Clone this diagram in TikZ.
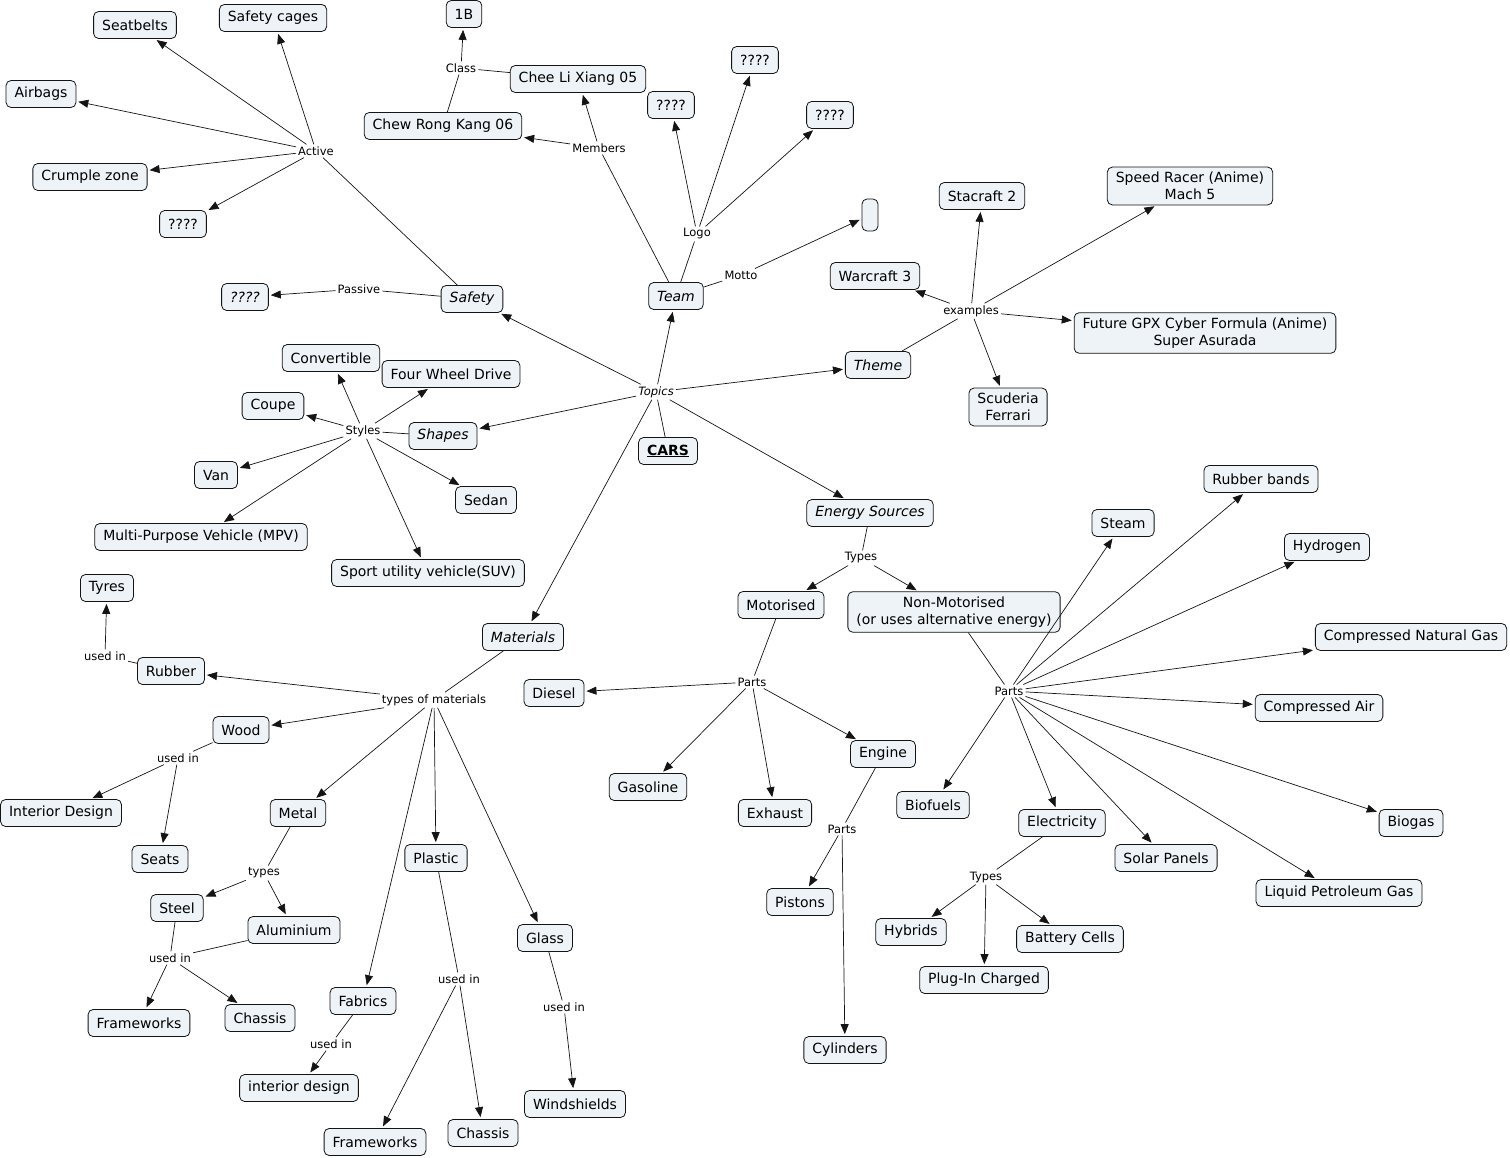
\documentclass[tikz,border=0pt]{standalone}
\usepackage{fontspec}
\setmainfont{DejaVu Sans}
\usepackage{tikz}
\usetikzlibrary{arrows.meta,positioning}
\definecolor{ConceptFill}{RGB}{237,243,246}
\definecolor{EdgeGray}{RGB}{20,20,20}

\begin{document}
\begin{tikzpicture}[
  x=1pt, y=-1pt,
  concept/.style={
    draw=EdgeGray,
    rounded corners=5pt,
    fill=ConceptFill,
    align=center,
    inner xsep=8.5pt,
    inner ysep=5pt,
    minimum height=27pt,
    line width=0.8pt,
    font=\fontsize{14}{17}\selectfont
  },
  linkph/.style={font=\fontsize{11.5}{13}\selectfont, inner sep=2pt},
  plain/.style={line width=0.7pt, EdgeGray},
  arr/.style={-{Triangle[length=10pt,width=8pt]}, line width=0.7pt, EdgeGray, shorten >=2pt}
]
\useasboundingbox (0,0) rectangle (1510,1158);

% Centre
\node[linkph,font=\fontsize{11.5}{13}\selectfont\itshape] (topics) at (656,392) {Topics};
\node[concept] (cars) at (668,451) {\underline{\textbf{CARS}}};

% Topics
\node[concept,font=\fontsize{14}{17}\selectfont\itshape] (safety) at (472,299) {Safety};
\node[concept,font=\fontsize{14}{17}\selectfont\itshape] (team) at (676,296) {Team};
\node[concept,font=\fontsize{14}{17}\selectfont\itshape] (theme) at (878,365) {Theme};
\node[concept,font=\fontsize{14}{17}\selectfont\itshape] (shapes) at (443,436) {Shapes};
\node[concept,font=\fontsize{14}{17}\selectfont\itshape] (energy) at (870,513) {Energy Sources};
\node[concept,font=\fontsize{14}{17}\selectfont\itshape] (materials) at (523,637) {Materials};

% Safety
\node[linkph] (active) at (316,151) {Active};
\node[linkph] (passive) at (359,289) {Passive};
\node[concept] (seatbelts) at (135,25) {Seatbelts};
\node[concept] (cages) at (273,18) {Safety cages};
\node[concept] (airbags) at (41,94) {Airbags};
\node[concept] (crumple) at (90,177) {Crumple zone};
\node[concept] (qactive) at (183,224) {????};
\node[concept,font=\fontsize{14}{17}\selectfont\itshape] (qpassive) at (245,297) {????};

% Team
\node[linkph] (members) at (599,148) {Members};
\node[linkph] (class) at (461,68) {Class};
\node[linkph] (logo) at (697,234) {Logo};
\node[linkph] (motto) at (741,275) {Motto};
\node[concept] (oneb) at (464,14) {1B};
\node[concept] (chee) at (578,79) {Chee Li Xiang 05};
\node[concept] (chew) at (443,126) {Chew Rong Kang 06};
\node[concept] (logoa) at (671,105) {????};
\node[concept] (logob) at (755,60) {????};
\node[concept] (logoc) at (830,115) {????};
\node[concept,minimum width=16pt,minimum height=32pt,inner xsep=0pt] (mottobox) at (870,215) {};

% Theme
\node[linkph] (examples) at (971,311) {examples};
\node[concept] (stacraft) at (982,196) {Stacraft 2};
\node[concept] (speed) at (1190,186) {Speed Racer (Anime)\\Mach 5};
\node[concept] (warcraft) at (875,276) {Warcraft 3};
\node[concept] (future) at (1205,333) {Future GPX Cyber Formula (Anime)\\Super Asurada};
\node[concept] (scuderia) at (1008,407) {Scuderia\\Ferrari};

% Shapes
\node[linkph] (styles) at (363,431) {Styles};
\node[concept] (convertible) at (331,358) {Convertible};
\node[concept] (fwd) at (451,374) {Four Wheel Drive};
\node[concept] (coupe) at (273,406) {Coupe};
\node[concept] (van) at (216,475) {Van};
\node[concept] (sedan) at (486,500) {Sedan};
\node[concept] (mpv) at (201,537) {Multi-Purpose Vehicle (MPV)};
\node[concept] (suv) at (428,573) {Sport utility vehicle(SUV)};

% Energy sources
\node[linkph] (etypes) at (861,558) {Types};
\node[concept] (motorised) at (781,605) {Motorised};
\node[concept] (nonmot) at (954,612) {Non-Motorised\\(or uses alternative energy)};
\node[linkph] (mparts) at (752,682) {Parts};
\node[concept] (diesel) at (554,693) {Diesel};
\node[concept] (gasoline) at (648,787) {Gasoline};
\node[concept] (exhaust) at (775,813) {Exhaust};
\node[concept] (engine) at (883,754) {Engine};
\node[linkph] (eparts) at (842,829) {Parts};
\node[concept] (pistons) at (800,902) {Pistons};
\node[concept] (cylinders) at (845,1050) {Cylinders};
\node[linkph] (nparts) at (1009,691) {Parts};
\node[concept] (steam) at (1123,523) {Steam};
\node[concept] (rubberbands) at (1261,479) {Rubber bands};
\node[concept] (hydrogen) at (1327,547) {Hydrogen};
\node[concept] (cng) at (1411,637) {Compressed Natural Gas};
\node[concept] (cair) at (1319,708) {Compressed Air};
\node[concept] (biogas) at (1411,823) {Biogas};
\node[concept] (lpg) at (1339,893) {Liquid Petroleum Gas};
\node[concept] (solar) at (1166,858) {Solar Panels};
\node[concept] (electricity) at (1062,823) {Electricity};
\node[concept] (biofuels) at (933,805) {Biofuels};
\node[linkph] (eltypes) at (986,877) {Types};
\node[concept] (hybrids) at (911,932) {Hybrids};
\node[concept] (battery) at (1070,939) {Battery Cells};
\node[concept] (plugin) at (984,980) {Plug-In Charged};

% Materials
\node[linkph] (typesof) at (434,700) {types of materials};
\node[concept] (rubber) at (171,671) {Rubber};
\node[linkph] (rubberuse) at (105,656) {used in};
\node[concept] (tyres) at (107,588) {Tyres};
\node[concept] (wood) at (241,730) {Wood};
\node[linkph] (wooduse) at (178,758) {used in};
\node[concept] (interior) at (61,813) {Interior Design};
\node[concept] (seats) at (160,859) {Seats};
\node[concept] (metal) at (298,813) {Metal};
\node[linkph] (metaltypes) at (264,873) {types};
\node[concept] (steel) at (177,908) {Steel};
\node[concept] (alum) at (294,930) {Aluminium};
\node[linkph] (metaluse) at (170,958) {used in};
\node[concept] (framesa) at (139,1023) {Frameworks};
\node[concept] (chassisa) at (260,1018) {Chassis};
\node[concept] (plastic) at (436,858) {Plastic};
\node[linkph] (plasticuse) at (459,979) {used in};
\node[concept] (framesb) at (375,1142) {Frameworks};
\node[concept] (chassisb) at (483,1133) {Chassis};
\node[concept] (fabrics) at (363,1001) {Fabrics};
\node[linkph] (fabricuse) at (331,1044) {used in};
\node[concept] (intdesign) at (299,1088) {interior design};
\node[concept] (glass) at (545,938) {Glass};
\node[linkph] (glassuse) at (564,1007) {used in};
\node[concept] (windshields) at (575,1104) {Windshields};

% Connectors: centre
\draw[plain] (cars) -- (topics);
\draw[arr] (topics) -- (safety);
\draw[arr] (topics) -- (team);
\draw[arr] (topics) -- (theme);
\draw[arr] (topics) -- (shapes);
\draw[arr] (topics) -- (energy);
\draw[arr] (topics) -- (materials);

% Connectors: safety
\draw[plain] (safety) -- (active);
\draw[arr] (active) -- (seatbelts);
\draw[arr] (active) -- (cages);
\draw[arr] (active) -- (airbags);
\draw[arr] (active) -- (crumple);
\draw[arr] (active) -- (qactive);
\draw[plain] (safety) -- (passive);
\draw[arr] (passive) -- (qpassive);

% Connectors: team
\draw[plain] (team) -- (members);
\draw[arr] (members) -- (chee);
\draw[arr] (members) -- (chew);
\draw[plain] (chew) -- (class);
\draw[plain] (chee) -- (class);
\draw[arr] (class) -- (oneb);
\draw[plain] (team) -- (logo);
\draw[arr] (logo) -- (logoa);
\draw[arr] (logo) -- (logob);
\draw[arr] (logo) -- (logoc);
\draw[plain] (team) -- (motto);
\draw[arr] (motto) -- (mottobox);

% Connectors: theme
\draw[plain] (theme) -- (examples);
\draw[arr] (examples) -- (stacraft);
\draw[arr] (examples) -- (speed);
\draw[arr] (examples) -- (warcraft);
\draw[arr] (examples) -- (future);
\draw[arr] (examples) -- (scuderia);

% Connectors: shapes
\draw[plain] (shapes) -- (styles);
\draw[arr] (styles) -- (convertible);
\draw[arr] (styles) -- (fwd);
\draw[arr] (styles) -- (coupe);
\draw[arr] (styles) -- (van);
\draw[arr] (styles) -- (sedan);
\draw[arr] (styles) -- (mpv);
\draw[arr] (styles) -- (suv);

% Connectors: energy sources
\draw[plain] (energy) -- (etypes);
\draw[arr] (etypes) -- (motorised);
\draw[arr] (etypes) -- (nonmot);
\draw[plain] (motorised) -- (mparts);
\draw[arr] (mparts) -- (diesel);
\draw[arr] (mparts) -- (gasoline);
\draw[arr] (mparts) -- (exhaust);
\draw[arr] (mparts) -- (engine);
\draw[plain] (engine) -- (eparts);
\draw[arr] (eparts) -- (pistons);
\draw[arr] (eparts) -- (cylinders);
\draw[plain] (nonmot) -- (nparts);
\draw[arr] (nparts) -- (steam);
\draw[arr] (nparts) -- (rubberbands);
\draw[arr] (nparts) -- (hydrogen);
\draw[arr] (nparts) -- (cng);
\draw[arr] (nparts) -- (cair);
\draw[arr] (nparts) -- (biogas);
\draw[arr] (nparts) -- (lpg);
\draw[arr] (nparts) -- (solar);
\draw[arr] (nparts) -- (electricity);
\draw[arr] (nparts) -- (biofuels);
\draw[plain] (electricity) -- (eltypes);
\draw[arr] (eltypes) -- (hybrids);
\draw[arr] (eltypes) -- (battery);
\draw[arr] (eltypes) -- (plugin);

% Connectors: materials
\draw[plain] (materials) -- (typesof);
\draw[arr] (typesof) -- (rubber);
\draw[arr] (typesof) -- (wood);
\draw[arr] (typesof) -- (metal);
\draw[arr] (typesof) -- (plastic);
\draw[arr] (typesof) -- (glass);
\draw[arr] (typesof) -- (fabrics);
\draw[plain] (rubber) -- (rubberuse);
\draw[arr] (rubberuse) -- (tyres);
\draw[plain] (wood) -- (wooduse);
\draw[arr] (wooduse) -- (interior);
\draw[arr] (wooduse) -- (seats);
\draw[plain] (metal) -- (metaltypes);
\draw[arr] (metaltypes) -- (steel);
\draw[arr] (metaltypes) -- (alum);
\draw[plain] (steel) -- (metaluse);
\draw[plain] (alum) -- (metaluse);
\draw[arr] (metaluse) -- (framesa);
\draw[arr] (metaluse) -- (chassisa);
\draw[plain] (plastic) -- (plasticuse);
\draw[arr] (plasticuse) -- (framesb);
\draw[arr] (plasticuse) -- (chassisb);
\draw[plain] (fabrics) -- (fabricuse);
\draw[arr] (fabricuse) -- (intdesign);
\draw[plain] (glass) -- (glassuse);
\draw[arr] (glassuse) -- (windshields);
\end{tikzpicture}
\end{document}
